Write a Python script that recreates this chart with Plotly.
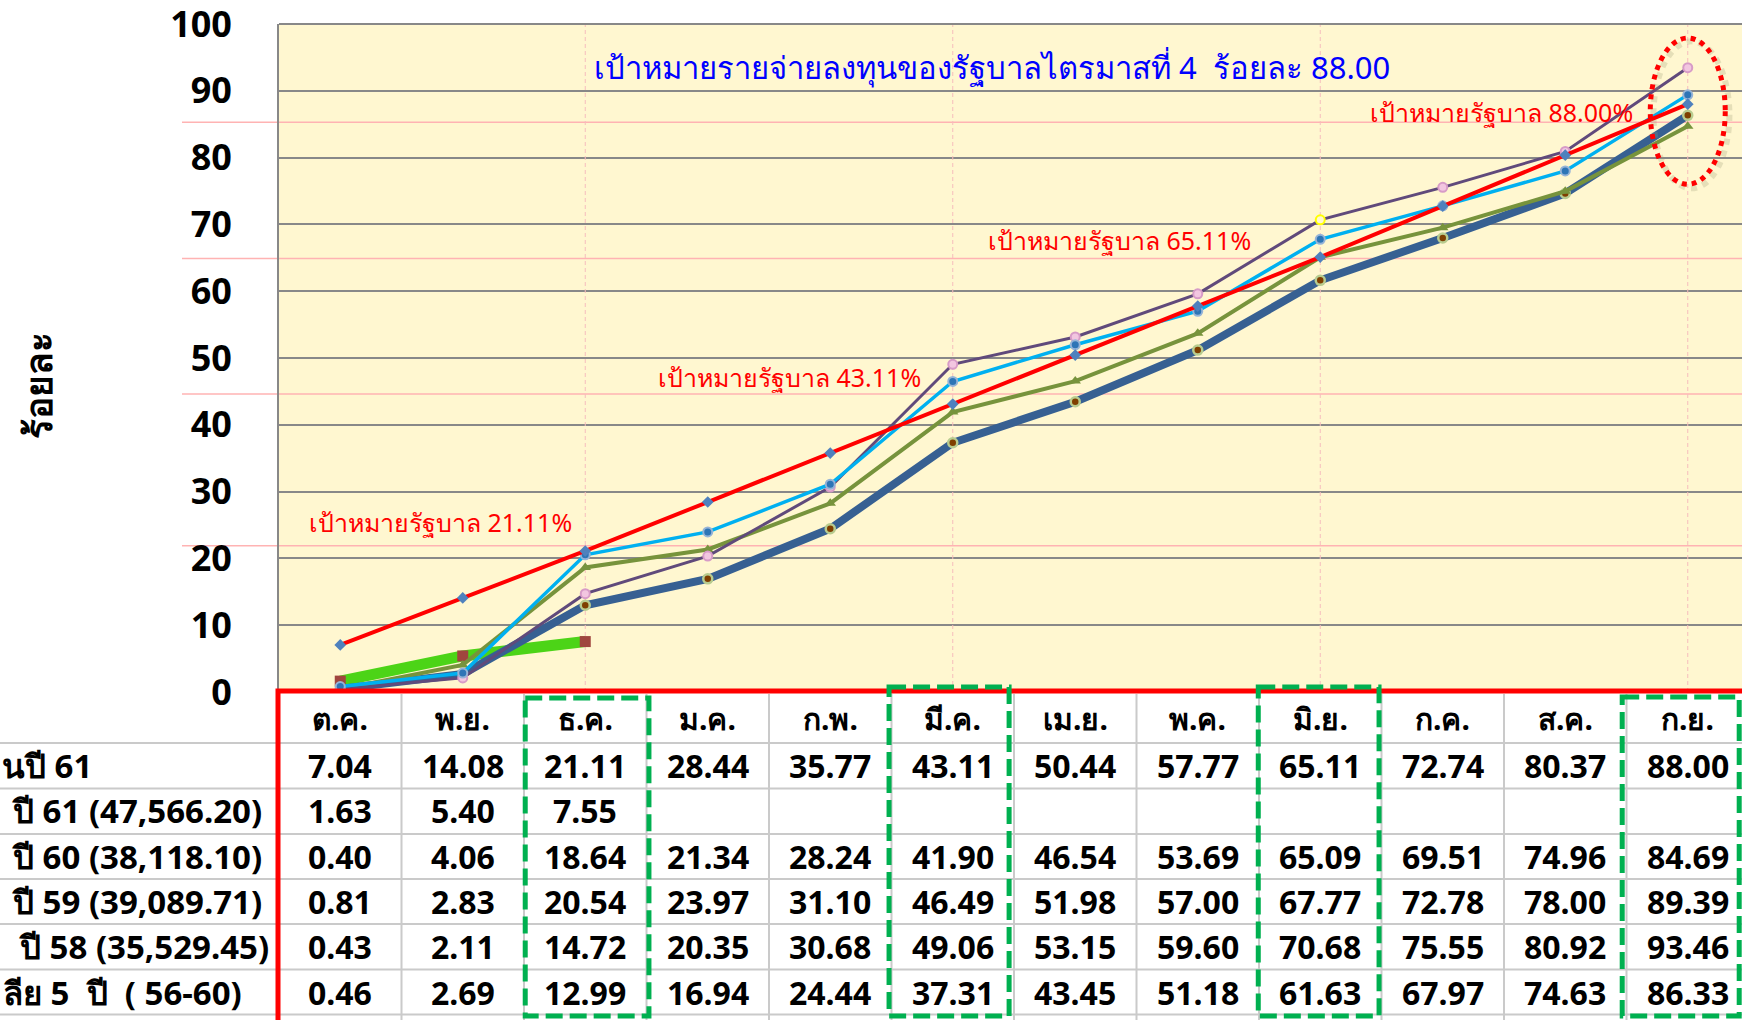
import plotly.graph_objects as go

# ---------------- data ----------------
months = ["ต.ค.", "พ.ย.", "ธ.ค.", "ม.ค.", "ก.พ.", "มี.ค.", "เม.ย.", "พ.ค.", "มิ.ย.", "ก.ค.", "ส.ค.", "ก.ย."]
target61 = [7.04, 14.08, 21.11, 28.44, 35.77, 43.11, 50.44, 57.77, 65.11, 72.74, 80.37, 88.00]
actual61 = [1.63, 5.40, 7.55]
actual60 = [0.40, 4.06, 18.64, 21.34, 28.24, 41.90, 46.54, 53.69, 65.09, 69.51, 74.96, 84.69]
actual59 = [0.81, 2.83, 20.54, 23.97, 31.10, 46.49, 51.98, 57.00, 67.77, 72.78, 78.00, 89.39]
actual58 = [0.43, 2.11, 14.72, 20.35, 30.68, 49.06, 53.15, 59.60, 70.68, 75.55, 80.92, 93.46]
avg5 = [0.46, 2.69, 12.99, 16.94, 24.44, 37.31, 43.45, 51.18, 61.63, 67.97, 74.63, 86.33]

# row labels as visible in the (left-cropped) reference
row_labels = [
    "นปี 61",
    "ปี 61 (47,566.20)",
    "ปี 60 (38,118.10)",
    "ปี 59 (39,089.71)",
    "ปี 58 (35,529.45)",
    "ลีย 5\u00a0\u00a0ปี\u00a0\u00a0( 56-60)",
]
table_rows = [target61, actual61, actual60, actual59, actual58, avg5]

goal_labels = ["เป้าหมายรัฐบาล 21.11%", "เป้าหมายรัฐบาล 43.11%",
               "เป้าหมายรัฐบาล 65.11%", "เป้าหมายรัฐบาล 88.00%"]
ref_line_levels = [21.9, 44.6, 64.9, 85.3]
quarter_months = ["ธ.ค.", "มี.ค.", "มิ.ย.", "ก.ย."]
y_ticks = [0, 10, 20, 30, 40, 50, 60, 70, 80, 90, 100]
title_text = "เป้าหมายรายจ่ายลงทุนของรัฐบาลไตรมาสที่ 4\u00a0\u00a0ร้อยละ 88.00"
y_title = "ร้อยละ"

# ---------------- geometry ----------------
W, H = 1742, 1020
L, T, B = 279, 24, 328
PW = W - L
PH = H - T - B
YB = H - B          # pixel of y=0


def py(px):  # pixel y -> paper y
    return (YB - px) / PH


def pxx(px):  # pixel x -> paper x
    return (px - L) / PW


FONT = "Noto Sans, sans-serif"

fig = go.Figure()

fig.add_trace(go.Scatter(x=months[:len(actual61)], y=actual61, mode="lines+markers",
                         line=dict(color="#4CD417", width=11),
                         marker=dict(symbol="square", size=11, color="#A0453E"),
                         name="61"))
fig.add_trace(go.Scatter(x=months, y=avg5, mode="lines+markers",
                         line=dict(color="#376092", width=8),
                         marker=dict(symbol="circle", size=9, color="#7F3F00",
                                     line=dict(color="#B8CC8F", width=2.5)),
                         name="avg"))
fig.add_trace(go.Scatter(x=months, y=actual60, mode="lines+markers",
                         line=dict(color="#77933C", width=4),
                         marker=dict(symbol="triangle-up", size=10, color="#77933C"),
                         name="60"))
m58_line = ["#D79BC7"] * len(actual58)
m58_line[8] = "#FFFF00"
m58_fill = ["#F2C6E0"] * len(actual58)
m58_fill[8] = "#FFF7D0"
fig.add_trace(go.Scatter(x=months, y=actual58, mode="lines+markers",
                         line=dict(color="#604A7B", width=3),
                         marker=dict(symbol="circle", size=9, color=m58_fill,
                                     line=dict(color=m58_line, width=2)),
                         name="58"))
fig.add_trace(go.Scatter(x=months, y=actual59, mode="lines+markers",
                         line=dict(color="#00B0F0", width=3.5),
                         marker=dict(symbol="circle", size=9, color="#2E75B6",
                                     line=dict(color="#95B3D7", width=2)),
                         name="59"))
fig.add_trace(go.Scatter(x=months, y=target61, mode="lines+markers",
                         line=dict(color="#FF0000", width=4),
                         marker=dict(symbol="diamond", size=9, color="#4F81BD"),
                         name="target"))

shapes = []
# top border of the plot area (the 100 gridline)
shapes.append(dict(type="line", xref="paper", yref="paper", x0=0, x1=1, y0=1, y1=1,
                   line=dict(color="#888888", width=1.8), layer="above"))
# pink reference lines
for lv in ref_line_levels:
    shapes.append(dict(type="line", xref="paper", yref="y", x0=pxx(182), x1=1, y0=lv, y1=lv,
                       line=dict(color="#FFB3B3", width=1.5), layer="between"))
# quarter vertical dashed lines
for m in quarter_months:
    shapes.append(dict(type="line", xref="x", yref="y", x0=m, x1=m, y0=0, y1=100,
                       line=dict(color="#F6BDBD", width=1, dash="4px,3px"), layer="between"))
# ellipse shadow + ellipse
shapes.append(dict(type="circle", xref="x", yref="y", x0=10.72, x1=11.34, y0=75.4, y1=97.4,
                   line=dict(color="rgba(150,150,110,0.25)", width=6, dash="dot"), layer="above"))
shapes.append(dict(type="circle", xref="x", yref="y", x0=10.694, x1=11.306, y0=76.0, y1=97.9,
                   line=dict(color="#FF0000", width=5, dash="dot"), layer="above"))

# table horizontal lines
for ypx in [743, 788.5, 834, 879, 924, 969.5, 1014.5]:
    shapes.append(dict(type="line", xref="paper", yref="paper", x0=pxx(0), x1=1.01,
                       y0=py(ypx), y1=py(ypx), line=dict(color="#CACACA", width=2), layer="above"))
# table vertical lines
for k in range(1, 12):
    shapes.append(dict(type="line", xref="x", yref="paper", x0=k - 0.5, x1=k - 0.5,
                       y0=py(694), y1=py(1025), line=dict(color="#CACACA", width=2), layer="above"))
# red border
shapes.append(dict(type="rect", xref="paper", yref="paper", x0=pxx(278), x1=1.02,
                   y0=py(691), y1=py(1060), line=dict(color="#FF0000", width=5), layer="above"))
# green dashed quarter boxes
boxes = [(1.51, 2.52, 698), (4.48, 5.46, 687), (7.494, 8.48, 687), (10.465, 11.42, 697)]
for x0, x1, ytop in boxes:
    shapes.append(dict(type="rect", xref="x", yref="paper", x0=x0, x1=x1,
                       y0=py(ytop), y1=py(1016), line=dict(color="#00B050", width=5, dash="17px,7px"),
                       layer="above"))

annotations = []
# title
annotations.append(dict(xref="paper", yref="paper", x=pxx(992), y=py(67), text=title_text,
                        showarrow=False, font=dict(family=FONT, size=31, color="#0000FF"),
                        xanchor="center", yanchor="middle"))
# goal labels
goal_pos = [(0.82, 25.4), (3.67, 47.2), (6.36, 67.7), (9.48, 86.8)]
for (gx, gy), t in zip(goal_pos, goal_labels):
    annotations.append(dict(xref="x", yref="y", x=gx, y=gy, text=t, showarrow=False,
                            font=dict(family=FONT, size=25, color="#FF0000"),
                            xanchor="center", yanchor="middle"))
# y axis title
annotations.append(dict(xref="paper", yref="paper", x=pxx(37), y=py(386), text="<b>" + y_title + "</b>",
                        textangle=-90, showarrow=False, font=dict(family=FONT, size=37, color="#000000"),
                        xanchor="center", yanchor="middle"))
# header
for m in months:
    annotations.append(dict(xref="x", yref="paper", x=m, y=py(718), text="<b>" + m + "</b>",
                            showarrow=False, font=dict(family=FONT, size=30, color="#000000"),
                            xanchor="center", yanchor="middle"))
row_centers = [765.5, 810.5, 856, 901.5, 946.5, 992]
label_right = [94, 264, 264, 264, 271, 244]
for r, (vals, lab) in enumerate(zip(table_rows, row_labels)):
    yc = py(row_centers[r])
    annotations.append(dict(xref="paper", yref="paper", x=pxx(label_right[r]), y=yc,
                            text="<b>" + lab + "</b>", showarrow=False,
                            font=dict(family=FONT, size=33, color="#000000"),
                            xanchor="right", yanchor="middle"))
    for m, v in zip(months, vals):
        annotations.append(dict(xref="x", yref="paper", x=m, y=yc, text="<b>%.2f</b>" % v,
                                showarrow=False, font=dict(family=FONT, size=32, color="#000000"),
                                xanchor="center", yanchor="middle"))

fig.update_layout(
    width=W, height=H,
    margin=dict(l=L, r=0, t=T, b=B, pad=0),
    paper_bgcolor="#FFFFFF",
    plot_bgcolor="#FFF7D0",
    showlegend=False,
    shapes=shapes,
    annotations=annotations,
    xaxis=dict(type="category", categoryarray=months, range=[-0.5, -0.5 + PW / 122.5],
               showticklabels=False, showgrid=False, zeroline=False, ticks="",
               showline=False, fixedrange=True),
    yaxis=dict(range=[0, 100], tickvals=y_ticks, showgrid=True,
               gridcolor="#888888", gridwidth=1.7,
               zeroline=False, showline=True, linecolor="#888888", linewidth=1.7,
               ticks="", ticklabelstandoff=38, ticklabeloverflow="allow",
               tickfont=dict(family=FONT, size=36, color="#000000", weight="bold"),
               fixedrange=True),
)

fig.write_html("out.html", config={"displayModeBar": False},
               post_script="document.body.style.margin='0px';")
